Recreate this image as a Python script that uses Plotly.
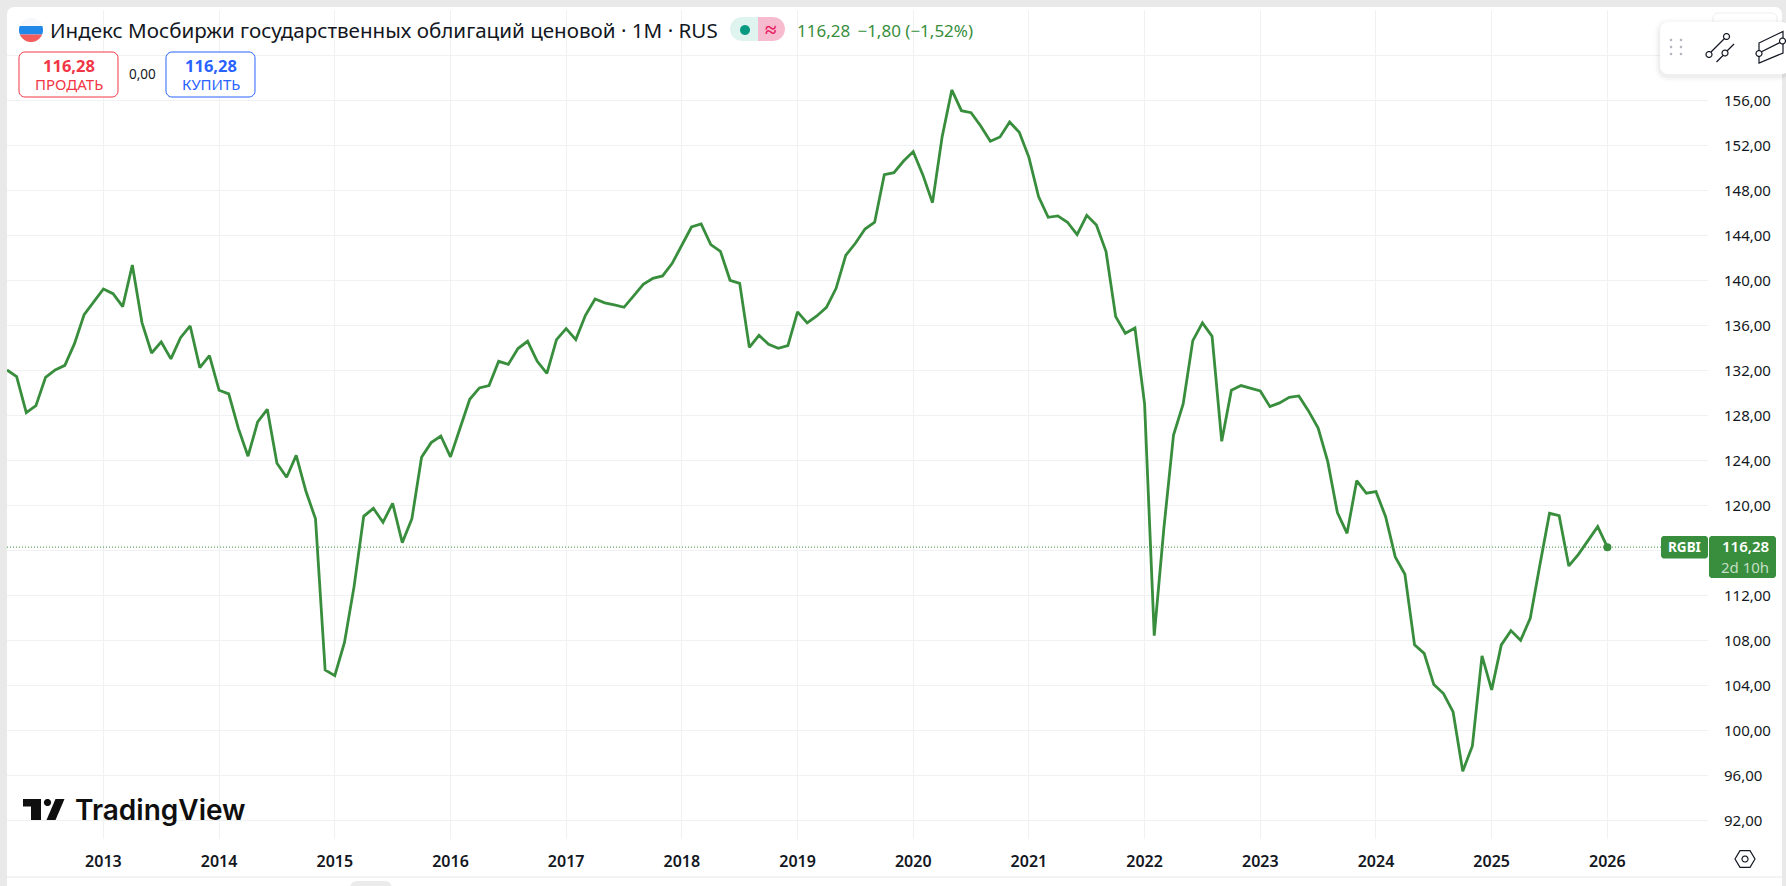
import numpy as np
import plotly.graph_objects as go

W, H = 1786, 886
FONT = "Noto Sans"
INK = "#131722"
GREEN = "#388e3c"
RED = "#f23645"
BLUE = "#2962ff"
GRID = "#f0f1f3"

# ---- data, one list per calendar year (monthly closes) ----
START_YEAR_2012 = [132.03, 131.44, 128.24, 128.86, 131.38, 132.03, 132.44, 134.37, 136.95, 138.10]  # Mar-Dec
Y2013 = [139.23, 138.81, 137.66, 141.36, 136.24, 133.54, 134.52, 133.01, 134.90, 135.94, 132.24, 133.30]
Y2014 = [130.22, 129.90, 126.84, 124.36, 127.41, 128.53, 123.73, 122.49, 124.44, 121.27, 118.79, 105.36]
Y2015 = [104.86, 107.79, 112.77, 119.02, 119.73, 118.49, 120.18, 116.68, 118.81, 124.27, 125.57, 126.16]
Y2016 = [124.30, 126.87, 129.42, 130.43, 130.64, 132.80, 132.53, 133.93, 134.58, 132.80, 131.73, 134.73]
Y2017 = [135.70, 134.73, 136.89, 138.34, 137.99, 137.81, 137.60, 138.61, 139.64, 140.18, 140.39, 141.51]
Y2018 = [143.11, 144.74, 145.01, 143.17, 142.58, 140.00, 139.73, 134.04, 135.11, 134.31, 133.96, 134.19]
Y2019 = [137.19, 136.21, 136.83, 137.60, 139.29, 142.22, 143.29, 144.56, 145.16, 149.39, 149.57, 150.60]
Y2020 = [151.44, 149.37, 146.90, 152.77, 156.92, 155.08, 154.90, 153.72, 152.36, 152.74, 154.07, 153.16]
Y2021 = [150.93, 147.44, 145.60, 145.72, 145.16, 144.06, 145.78, 144.92, 142.55, 136.77, 135.29, 135.76]
Y2022 = [129.00, 108.41, 117.96, 126.25, 129.00, 134.64, 136.21, 135.02, 125.69, 130.22, 130.64, 130.43]
Y2023 = [130.16, 128.77, 129.10, 129.60, 129.72, 128.39, 126.87, 123.88, 119.35, 117.51, 122.19, 121.07]
Y2024 = [121.21, 118.99, 115.41, 113.87, 107.59, 106.84, 104.06, 103.26, 101.63, 96.36, 98.61, 106.61]
Y2025 = [103.59, 107.59, 108.86, 108.00, 109.96, 114.70, 119.29, 119.08, 114.61, 115.64, 116.92, 118.10]
Y2026 = [116.28]

values = (START_YEAR_2012 + Y2013 + Y2014 + Y2015 + Y2016 + Y2017 + Y2018 + Y2019
          + Y2020 + Y2021 + Y2022 + Y2023 + Y2024 + Y2025 + Y2026)
months = [f"{y}-{m:02d}" for y in range(2012, 2027) for m in range(1, 13)]
months = months[2:2 + len(values)]

year_ticks = [f"{y}-01" for y in range(2013, 2027)]
year_labels = [str(y) for y in range(2013, 2027)]
price_ticks = list(range(92, 168, 4))
price_labels = [f"{p},00" if p <= 156 else "" for p in price_ticks]

TITLE = "Индекс Мосбиржи государственных облигаций ценовой · 1M · RUS"
LAST = "116,28"

# ---- pixel helpers (margins are 0, so paper coordinates map to pixels) ----
def fx(x): return x / W
def fy(y): return 1 - y / H

def poly(pts, close=True):
    s = "M " + " L ".join(f"{fx(x):.6f},{fy(y):.6f}" for x, y in pts)
    return s + (" Z" if close else "")

def rrect(x0, y0, x1, y1, r, corners=(1, 1, 1, 1)):
    tl, tr, br, bl = [r * c for c in corners]
    def arc(cx, cy, a0, rad):
        if rad == 0:
            return [(cx, cy)]
        return [(cx + rad * np.cos(a), cy + rad * np.sin(a))
                for a in np.linspace(a0, a0 + np.pi / 2, 7)]
    pts = (arc(x0 + tl, y0 + tl, np.pi, tl) + arc(x1 - tr, y0 + tr, 1.5 * np.pi, tr)
           + arc(x1 - br, y1 - br, 0, br) + arc(x0 + bl, y1 - bl, 0.5 * np.pi, bl))
    return poly(pts)

def circle_pts(cx, cy, r, n=28):
    return [(cx + r * np.cos(a), cy + r * np.sin(a)) for a in np.linspace(0, 2 * np.pi, n, endpoint=False)]

shapes = []
def add(path, fill="rgba(0,0,0,0)", line=None, width=0, layer="above"):
    shapes.append(dict(type="path", path=path, xref="paper", yref="paper", fillcolor=fill,
                       line=dict(color=line or "rgba(0,0,0,0)", width=width), layer=layer))

# page card
add(rrect(7, 7, 1782, 900, 7), fill="#ffffff", layer="below")
# bottom rule and scroll tab
add(poly([(7, 877), (1782, 877)], close=False), line="#e6e7eb", width=1)
add(rrect(350, 881, 392, 895, 7), fill="#ebebeb")

# last-price dotted line
shapes.append(dict(type="line", xref="paper", yref="y", x0=fx(7), x1=fx(1708), y0=values[-1], y1=values[-1],
                   line=dict(color=GREEN, width=1, dash="1px,2px"), layer="above"))

# flag
cx, cy, r = 31, 30, 12
def seg(y0, y1):
    ang0 = np.arcsin((y0 - cy) / r)
    ang1 = np.arcsin((y1 - cy) / r)
    a = np.linspace(ang0, ang1, 12)
    right = [(cx + r * np.cos(t), cy + r * np.sin(t)) for t in a]
    left = [(cx - r * np.cos(t), cy + r * np.sin(t)) for t in a[::-1]]
    return poly(right + left)
add(seg(18, 26), fill="#f6f8fb")
add(seg(26, 34.5), fill="#2088e8")
add(seg(34.5, 42), fill="#f25c5c")

# status pill
add(rrect(730, 17, 758, 41, 12, (1, 0, 0, 1)), fill="#dff3ef")
add(rrect(758, 17, 785, 41, 12, (0, 1, 1, 0)), fill="#f7bbd0")
add(poly(circle_pts(745, 30, 5)), fill="#089981")

# buy and sell boxes
add(rrect(19, 52, 118, 97, 6), fill="#ffffff", line=RED, width=1)
add(rrect(166, 52, 255, 97, 6), fill="#ffffff", line=BLUE, width=1)

# faint box behind the toolbar
add(rrect(1713, 13, 1777, 40, 5), fill="#ffffff", line="#eceef2", width=1)
# toolbar shadow and body
for grow, col in [(6, "rgba(0,0,0,0.012)"), (4, "rgba(0,0,0,0.02)"), (2, "rgba(0,0,0,0.03)")]:
    add(rrect(1660 - grow, 22 - grow + 2, 1790, 74 + grow + 2, 8 + grow), fill=col)
add(rrect(1660, 22, 1790, 74, 8), fill="#ffffff")
for gx in (1671, 1681):
    for gy in (40, 47, 54):
        add(poly(circle_pts(gx, gy, 1.3, 10)), fill="#b2b5be")
# trend tool icon
add(poly([(1711, 52), (1724.5, 38.5)], close=False), line=INK, width=1.2)
add(poly(circle_pts(1709, 54.5, 3, 14)), fill="#ffffff", line=INK, width=1.2)
add(poly(circle_pts(1726.5, 36.5, 3, 14)), fill="#ffffff", line=INK, width=1.2)
add(poly([(1716.5, 62), (1723, 55.5)], close=False), line=INK, width=1.2)
add(poly([(1727, 51), (1734, 44)], close=False), line=INK, width=1.2)
add(poly(circle_pts(1725, 53, 3, 14)), fill="#ffffff", line=INK, width=1.2)
# channel tool icon
add(poly([(1759, 43), (1783, 31.5), (1783, 53), (1759, 63)]), line=INK, width=1.2)
add(poly([(1759, 53), (1783, 41)], close=False), line=INK, width=1.2)
add(poly(circle_pts(1759, 53.5, 3, 14)), fill="#ffffff", line=INK, width=1.2)
add(poly(circle_pts(1782.5, 41, 3, 14)), fill="#ffffff", line=INK, width=1.2)

# price tags
add(rrect(1661, 536, 1708, 558.5, 3), fill=GREEN)
add(rrect(1709, 536, 1776, 578, 3), fill=GREEN)

# TradingView mark
add(poly([(23, 799), (41, 799), (41, 820), (31, 820), (31, 806.5), (23, 806.5)]), fill="#0f0f0f")
add(poly(circle_pts(47.5, 802.5, 3.6)), fill="#0f0f0f")
add(poly([(46.5, 820), (55.5, 799), (64.5, 799), (55.5, 820)]), fill="#0f0f0f")

# settings hexagon
hex_pts = [(1745 + 10 * np.cos(a), 859 + 9.6 * np.sin(a)) for a in np.linspace(0, 2 * np.pi, 6, endpoint=False)]
add(poly(hex_pts), line=INK, width=1.2)
add(poly(circle_pts(1745, 859, 3)), line=INK, width=1.2)

# ---- texts ----
def text(x, y, s, size=14, color=INK, anchor="left", family=FONT, bold=False, weight=None):
    f = dict(family=family, size=size, color=color)
    if weight:
        f["weight"] = weight
    return dict(x=fx(x), y=fy(y), xref="paper", yref="paper", text=f"<b>{s}</b>" if bold else s,
                showarrow=False, xanchor=anchor, yanchor="middle",
                font=f, borderpad=0, borderwidth=0)

annotations = [
    text(50, 30, TITLE, size=20.6),
    text(771, 29, "≈", size=21, color="#e91e63", anchor="center", bold=True),
    text(797, 30, f"{LAST} &#8201;−1,80 (−1,52%)", size=17, color=GREEN),
    text(68.5, 65, LAST, size=16.5, color=RED, anchor="center", bold=True),
    text(68.5, 84, "ПРОДАТЬ", size=15, color=RED, anchor="center"),
    text(142, 74, "0,00", size=13.5, color=INK, anchor="center"),
    text(210.5, 65, LAST, size=16.5, color=BLUE, anchor="center", bold=True),
    text(210.5, 84, "КУПИТЬ", size=15, color=BLUE, anchor="center"),
    text(1684.5, 547, "RGBI", size=13.5, color="#ffffff", anchor="center", bold=True),
    text(1745, 546, LAST, size=15, color="#ffffff", anchor="center", weight=600),
    text(1745, 567, "2d 10h", size=15, color="#c3dec5", anchor="center"),
    text(75, 810, "TradingView", size=28, color="#0f0f0f", family="Inter", weight=600),
]

# ---- figure ----
fig = go.Figure()
fig.add_trace(go.Scatter(x=months, y=values, mode="lines", line=dict(color=GREEN, width=2.8),
                         hoverinfo="skip", showlegend=False))
fig.add_trace(go.Scatter(x=months[-1:], y=values[-1:], mode="markers",
                         marker=dict(color=GREEN, size=8), hoverinfo="skip", showlegend=False))

fig.update_layout(
    width=W, height=H, autosize=False, margin=dict(l=0, r=0, t=0, b=0, pad=0),
    paper_bgcolor="#e9e9e9", plot_bgcolor="rgba(0,0,0,0)", separators=", ",
    shapes=shapes, annotations=annotations, showlegend=False,
    xaxis=dict(domain=[fx(7), fx(1708)], type="category", categoryorder="array",
               categoryarray=months, range=[0.0, 176.44], tickmode="array",
               tickvals=year_ticks, ticktext=year_labels, showgrid=True, gridcolor=GRID, gridwidth=1,
               zeroline=False, showline=False, ticks="outside", ticklen=8, tickcolor="rgba(0,0,0,0)",
               tickangle=0, automargin=False, tickfont=dict(family="Noto Sans", size=16, color=INK, weight=600)),
    yaxis=dict(domain=[fy(838.5), fy(10.3)], range=[90.38, 164.0], side="right", tickmode="array",
               tickvals=price_ticks, ticktext=price_labels, showgrid=True, gridcolor=GRID, gridwidth=1,
               zeroline=False, showline=False, ticks="outside", ticklen=12, tickcolor="rgba(0,0,0,0)",
               automargin=False, tickfont=dict(family=FONT, size=15, color=INK)),
)

fig.write_html("out.html", config={"displayModeBar": False, "staticPlot": True},
               post_script="document.body.style.margin='0';document.body.style.overflow='hidden';")
